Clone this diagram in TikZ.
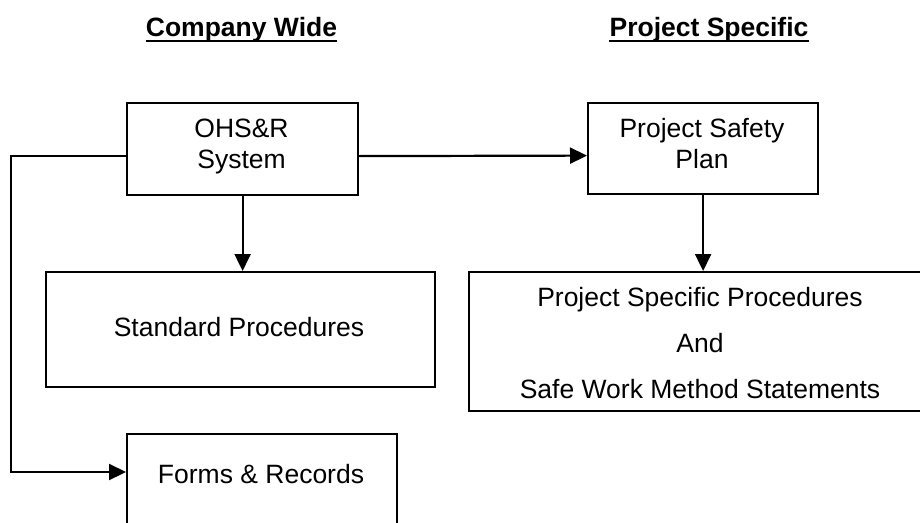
\documentclass[tikz,border=0pt]{standalone}
\usepackage{fontspec}
\setmainfont{Liberation Sans}
\usetikzlibrary{arrows.meta}
\begin{document}
\begin{tikzpicture}[x=1pt,y=-1pt,
  box/.style={draw, line width=2.2pt, inner sep=0pt, anchor=north west},
  lbl/.style={anchor=base, inner sep=0pt, font=\fontsize{26.5}{31}\selectfont},
  head/.style={anchor=base, inner sep=0pt, font=\fontsize{26.5}{31}\selectfont\bfseries},
  conn/.style={line width=2.2pt, -{Triangle[length=17pt,width=16pt]}}]
\useasboundingbox (0,0) rectangle (920,522);
\clip (0,0) rectangle (920,522);
% headings
\node[head] (h1) at (241.5,36) {Company Wide};
\node[head] (h2) at (709,36) {Project Specific};
\draw[line width=2.6pt] ([yshift=-5pt]h1.base west) -- ([yshift=-5pt]h1.base east);
\draw[line width=2.6pt] ([yshift=-5pt]h2.base west) -- ([yshift=-5pt]h2.base east);
% boxes
\node[box, minimum width=231pt, minimum height=92pt] (ohs) at (126,102) {};
\node[box, minimum width=230pt, minimum height=91pt] (psp) at (587,102) {};
\node[box, minimum width=389pt, minimum height=115pt] (std) at (45,271) {};
\node[box, minimum width=464pt, minimum height=139pt] (proj) at (468,271) {};
\node[box, minimum width=270pt, minimum height=120pt] (forms) at (126,433) {};
% texts
\node[lbl] (t1a) at (241.5,137) {OHS\&R};
\node[lbl] (t1b) at (241.5,168) {System};
\node[lbl] (t2a) at (702,137) {Project Safety};
\node[lbl] (t2b) at (702,168) {Plan};
\node[lbl] (t3) at (239,336) {Standard Procedures};
\node[lbl] (t4a) at (700,306) {Project Specific Procedures};
\node[lbl] (t4b) at (700,352) {And};
\node[lbl] (t4c) at (700,398) {Safe Work Method Statements};
\node[lbl] (t5) at (261,483) {Forms \& Records};
% connectors
\coordinate (corner) at (11,472);
\draw[conn] ([yshift=-7pt]ohs.east) -- ([yshift=-7pt]psp.west);
\draw[conn] (ohs.south) -- (ohs.south |- std.north);
\draw[conn] (psp.south) -- (psp.south |- proj.north);
\draw[conn] ([yshift=-7pt]ohs.west) -| (corner) -- (corner -| forms.west);
\end{tikzpicture}
\end{document}
